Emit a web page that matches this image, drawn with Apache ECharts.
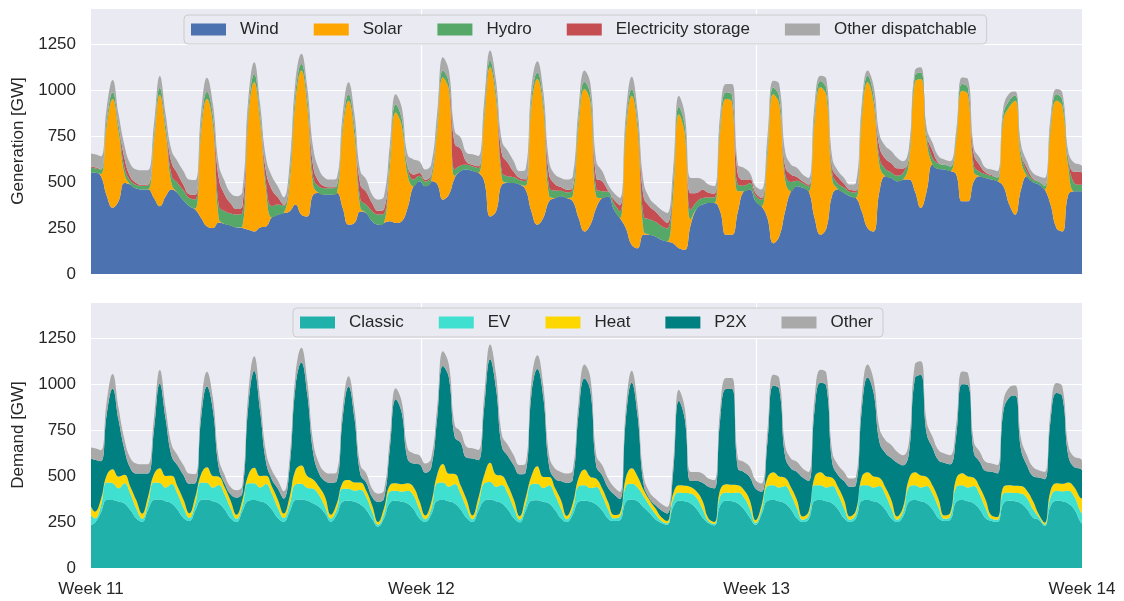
<!DOCTYPE html>
<html><head><meta charset="utf-8">
<script src="https://cdn.jsdelivr.net/npm/echarts@6/dist/echarts.min.js"></script>
<style>html,body{margin:0;padding:0;background:#fff}#c{width:1124px;height:601px}</style>
</head><body><div id="c"></div>
<script>
// sample times in hours since start of Week 11
const hours = [0,2,5,8,11,14,17,20,23,26,29,32,35,38,41,44,47,50,53,56,59,62,65,68,71,74,77,80,83,86,89,92,95,98,101,104,107,110,113,116,119,122,125,128,131,134,137,140,143,146,149,152,155,158,161,164,167,170,173,176,179,182,185,188,191,194,197,200,203,206,209,212,215,218,221,224,227,230,233,236,239,242,245,248,251,254,257,260,263,266,269,272,275,278,281,284,287,290,293,296,299,302,305,308,311,314,317,320,323,326,329,332,335,338,341,344,347,350,353,356,359,362,365,368,371,374,377,380,383,386,389,392,395,398,401,404,407,410,413,416,419,422,425,428,431,434,437,440,443,446,449,452,455,458,461,464,467,470,473,476,479,482,485,488,491,494,497,500,503,504];
const weekTicks = [0, 168, 338.5, 504];
const weekLabels = ['Week 11', 'Week 12', 'Week 13', 'Week 14'];

// Generation [GW]
const wind = [550,550,533,425,360,395,495,486,464, 459,459,413,368,422,459,440,400, 368,350,304,258,250,280,271,264, 253,250,240,231,253,258,308,322, 331,340,377,322,313,431,440,431, 431,440,359,268,277,340,331,286, 268,277,286,277,286,359,477,504, 477,504,490,404,431,522,559,568, 559,550,504,313,340,486,495,495, 486,459,340,268,304,395,413,422, 413,395,304,231,268,360,413,422, 349,304,249,158,140,213,213,204, 186,177,167,140,131,268,355,377, 386,386,340,213,213,340,450,459, 395,368,304,167,204,340,450,477, 468,450,304,213,249,431,460,440, 422,413,340,249,231,450,531,522, 504,513,513,450,359,450,595,570, 568,559,541,395,395,504,531,522, 513,504,477,377,322,459,531,500, 486,459,377,250,231,431,450,450,450];
const solar = [0,0,10,380,590,380,50,0,0, 0,0,300,605,350,30,0,0, 0,5,460,692,565,20,0,0, 0,10,605,810,575,200,0,0, 0,150,560,783,600,50,0,0, 0,0,420,673,480,20,0,0, 0,0,300,600,520,180,0,0, 0,0,280,664,570,10,0,0, 0,0,340,810,610,30,0,0, 0,20,570,791,600,30,0,0, 0,30,500,774,664,60,0,0, 0,0,520,810,650,20,0,0, 0,0,250,728,630,30,0,0, 0,0,430,737,720,110,0,0, 0,0,340,810,720,170,0,0, 0,0,520,801,720,80,0,0, 0,0,500,792,700,140,0,0, 0,0,90,591,700,270,0,0, 0,0,180,601,580,50,0,0, 0,0,360,530,619,160,0,0, 0,0,400,691,680,150,0,0,0];
const hydro = [27,25,25,30,36,35,35,22,20, 20,22,30,38,35,45,55,55, 45,50,40,40,45,70,70,65, 70,70,40,45,35,40,60,55, 40,40,45,36,40,45,35,35, 35,35,30,36,45,45,45,55, 55,50,45,45,40,40,36,30, 25,25,30,38,38,35,30,25, 25,25,35,35,38,35,35,30, 25,25,40,36,38,45,40,30, 30,35,40,40,40,40,36,25, 35,35,35,36,40,80,85,80, 75,70,60,40,45,50,36,36, 30,30,35,38,40,35,30,36, 30,35,35,36,40,35,50,30, 25,25,35,35,38,35,30,30, 25,30,35,36,38,40,40,30, 30,35,30,36,36,35,35,30, 25,25,25,36,36,36,25,20, 20,20,30,36,30,35,25,15, 15,20,30,36,36,40,45,35,35];
const storage = [5,5,0,0,0,0,50,20,10, 5,5,0,0,0,70,50,30, 20,25,0,0,0,150,90,55, 30,40,0,0,0,60,90,40, 5,0,0,0,0,60,25,10, 5,5,0,0,0,80,70,45, 20,25,0,0,0,10,27,15, 10,10,0,0,0,140,90,16, 10,10,0,0,0,100,75,30, 10,10,0,0,0,70,35,20, 15,10,0,0,0,60,55,5, 20,35,0,0,0,110,70,55, 45,30,20,0,0,90,49,45, 25,20,0,0,0,55,30,20, 15,10,0,0,0,40,40,20, 10,10,0,0,0,30,35,20, 10,10,0,0,0,60,55,50, 40,25,0,0,0,0,40,5, 0,0,0,0,0,60,35,10, 5,0,0,0,0,0,20,5, 0,0,0,0,0,10,60,70,65];
const otherDispatchable = [73,70,72,70,68,60,70,70,74, 80,78,70,65,60,65,68,75, 80,80,76,76,63,75,73,56, 69,80,65,64,60,74,73,60, 41,65,68,55,61,100,68,46, 42,42,59,64,66,74,67,45, 61,70,73,55,60,61,82,64, 56,56,68,72,66,70,62,50, 56,56,62,56,62,72,63,58, 38,54,64,61,54,73,52,50, 55,61,61,60,60,93,55,34, 36,39,64,68,56,81,45,38, 43,54,62,60,62,84,82,55, 45,41,63,44,59,55,67,35, 37,46,62,37,68,83,55,50, 38,37,64,28,52,56,34,32, 29,42,48,28,54,70,69,66, 58,40,53,28,28,40,43,36, 29,29,31,36,48,36,41,25, 30,35,38,38,21,50,37,30, 30,43,43,28,39,37,49,40,36];

// Demand [GW]
const classic = [233,246,300,369,369,360,351,315,270, 251,315,369,372,362,351,318,272, 255,312,369,372,362,351,318,270, 250,310,365,370,362,351,318,272, 251,305,369,372,365,351,333,297, 251,290,360,365,360,345,315,265, 225,270,355,365,360,350,320,270, 250,290,365,370,362,351,318,272, 250,310,365,372,362,351,318,272, 248,310,365,368,360,350,315,270, 250,290,360,365,360,345,312,268, 255,260,360,372,362,330,300,265, 245,235,330,365,362,350,320,275, 245,232,340,365,362,350,320,275, 235,290,365,370,362,350,318,270, 250,265,365,370,362,350,318,270, 250,270,365,370,362,350,318,270, 250,280,360,370,362,350,318,270, 255,262,360,370,362,350,318,270, 255,250,350,365,362,350,320,275, 262,228,335,365,362,350,320,255,242];
const ev = [55,24,36,95,91,73,110,90,54, 17,36,95,90,75,105,85,55, 17,36,95,90,75,100,80,55, 17,30,95,90,75,105,85,55, 20,40,85,85,70,80,63,36, 18,30,70,65,60,80,70,40, 10,25,60,55,55,70,75,50, 15,30,95,95,80,105,85,55, 15,35,95,95,80,100,85,55, 15,35,90,90,75,100,80,55, 15,30,85,85,75,95,80,50, 15,18,85,85,75,60,40,30, 12,8,40,45,45,55,60,45, 10,8,50,45,45,60,65,50, 10,25,80,80,75,95,80,55, 12,20,85,80,75,95,80,55, 12,20,85,80,75,95,80,55, 12,25,80,80,75,95,85,60, 12,18,80,80,75,95,80,55, 12,12,55,45,45,55,60,45, 15,8,50,55,55,70,70,58,55];
const heat = [45,36,36,40,76,63,45,37,45, 27,36,45,80,63,45,40,45, 25,36,45,85,63,45,40,40, 22,30,45,85,63,45,40,45, 25,40,78,100,65,50,45,54, 20,30,35,48,45,40,35,35, 15,30,35,40,40,40,45,45, 20,35,45,100,70,55,45,45, 20,35,45,105,65,50,45,45, 18,35,45,95,60,45,40,45, 18,30,45,85,60,45,40,40, 18,20,45,85,60,35,30,30, 20,12,30,40,40,35,35,45, 15,10,35,45,45,40,40,45, 15,25,45,70,60,45,40,45, 18,22,45,70,60,45,40,45, 18,22,45,70,60,45,40,45, 18,25,45,70,65,50,45,45, 18,20,45,65,60,45,40,45, 18,15,35,40,40,40,40,45, 15,10,35,40,40,45,50,70,80];
const p2x = [262,282,208,331,438,309,139,101,144, 219,127,239,459,307,108,115,133, 161,76,306,439,358,49,21,35, 93,40,375,525,353,76,38,60, 81,160,453,559,444,145,72,85, 174,122,348,508,348,44,43,46, 109,52,199,457,391,135,127,198, 233,190,303,533,523,201,233,227, 310,206,371,562,468,157,160,186, 228,138,444,528,436,58,50,102, 180,131,350,495,467,68,72,78, 112,75,318,465,329,34,8,17, 37,41,109,458,361,32,57,98, 171,182,383,517,520,90,97,125, 172,74,191,470,475,118,102,152, 211,165,363,487,492,82,66,102, 161,138,363,515,456,195,187,228, 292,228,141,510,546,235,205,211, 287,263,232,483,497,136,139,157, 238,237,410,476,490,199,138,135, 199,236,380,490,474,148,109,157,154];
const otherDemand = [60,62,60,70,80,65,55,55,55, 50,50,65,75,60,60,55,55, 55,50,65,80,65,50,45,40, 40,40,70,80,70,55,50,45, 40,50,65,80,70,60,55,50, 50,50,55,55,55,50,50,45, 45,45,55,60,60,55,55,50, 50,50,60,80,70,65,60,60, 55,55,65,80,75,65,60,55, 50,50,70,75,65,60,55,50, 50,50,65,75,70,60,55,50, 40,40,60,65,60,45,35,35, 35,35,50,60,60,50,50,50, 45,45,60,60,60,55,55,55, 45,45,60,60,60,60,55,55, 50,50,65,70,70,60,55,50, 45,45,65,70,70,75,70,70, 60,55,60,75,75,65,60,55, 50,50,60,70,65,60,55,50, 45,45,55,55,55,60,55,50, 40,40,50,55,55,55,55,55,55];

const FONT = 'Liberation Sans, Arial, sans-serif';
const TXT = '#262626';
// value first, hour second, so the stack is computed on the value dimension
const pairs = arr => hours.map((h, i) => [arr[i], h]);

function area(name, arr, color, idx, stack) {
  return {
    name, type: 'line', stack, xAxisIndex: idx, yAxisIndex: idx,
    data: pairs(arr), encode: {x: 1, y: 0},
    symbol: 'none', smooth: 0.45,
    lineStyle: {width: 0}, areaStyle: {color, opacity: 1}, itemStyle: {color},
    emphasis: {disabled: true}
  };
}

function yAx(idx, name) {
  return {
    gridIndex: idx, type: 'value', min: 0, max: 1445, interval: 250,
    name, nameLocation: 'middle', nameGap: 50,
    nameTextStyle: {fontSize: 17, color: TXT, fontFamily: FONT},
    axisLine: {show: false}, axisTick: {show: false},
    axisLabel: {fontSize: 17, color: TXT, fontFamily: FONT, margin: 15, showMaxLabel: false,
                formatter: v => String(v)},
    splitLine: {show: true, lineStyle: {color: '#ffffff', width: 1.2}}
  };
}

function xAx(idx, labels) {
  return {
    gridIndex: idx, type: 'value', min: 0, max: 504,
    axisLine: {show: false},
    axisTick: {show: false, customValues: [weekTicks[1], weekTicks[2]]},
    splitLine: {show: true, lineStyle: {color: '#ffffff', width: 1.2}},
    axisLabel: labels ? {
      show: true, customValues: weekTicks, fontSize: 17, color: TXT, fontFamily: FONT, margin: 13,
      showMinLabel: true, showMaxLabel: true,
      formatter: v => {
        let best = 0;
        weekTicks.forEach((t, i) => { if (Math.abs(t - v) < Math.abs(weekTicks[best] - v)) best = i; });
        return weekLabels[best];
      }
    } : {show: false}
  };
}

function legend(left, top, names) {
  return {
    left, top, data: names, orient: 'horizontal',
    icon: 'rect', itemWidth: 35, itemHeight: 12, itemGap: 35,
    backgroundColor: '#EAEAF2', borderColor: '#CCCCCC', borderWidth: 1, borderRadius: 4,
    padding: [6, 10, 6, 7],
    textStyle: {fontSize: 17, color: TXT, fontFamily: FONT, padding: [0, 0, 0, 9]},
    selectedMode: false
  };
}

const chart = echarts.init(document.getElementById('c'), null, {renderer: 'canvas'});
chart.setOption({
  animation: false,
  backgroundColor: '#ffffff',
  grid: [
    {left: 91, top: 8, width: 991, height: 266, show: true, backgroundColor: '#EAEAF2', borderWidth: 0},
    {left: 91, top: 302, width: 991, height: 266, show: true, backgroundColor: '#EAEAF2', borderWidth: 0}
  ],
  xAxis: [xAx(0, false), xAx(1, true)],
  yAxis: [yAx(0, 'Generation [GW]'), yAx(1, 'Demand [GW]')],
  legend: [
    legend(184, 15, ['Wind', 'Solar', 'Hydro', 'Electricity storage', 'Other dispatchable']),
    legend(293, 308, ['Classic', 'EV', 'Heat', 'P2X', 'Other'])
  ],
  series: [
    area('Wind', wind, '#4C72B0', 0, 'gen'),
    area('Solar', solar, '#FFA500', 0, 'gen'),
    area('Hydro', hydro, '#55A868', 0, 'gen'),
    area('Electricity storage', storage, '#C44E52', 0, 'gen'),
    area('Other dispatchable', otherDispatchable, '#A9A9A9', 0, 'gen'),
    area('Classic', classic, '#20B2AA', 1, 'dem'),
    area('EV', ev, '#40E0D0', 1, 'dem'),
    area('Heat', heat, '#FFD700', 1, 'dem'),
    area('P2X', p2x, '#008080', 1, 'dem'),
    area('Other', otherDemand, '#A9A9A9', 1, 'dem')
  ]
});
</script>
</body></html>
